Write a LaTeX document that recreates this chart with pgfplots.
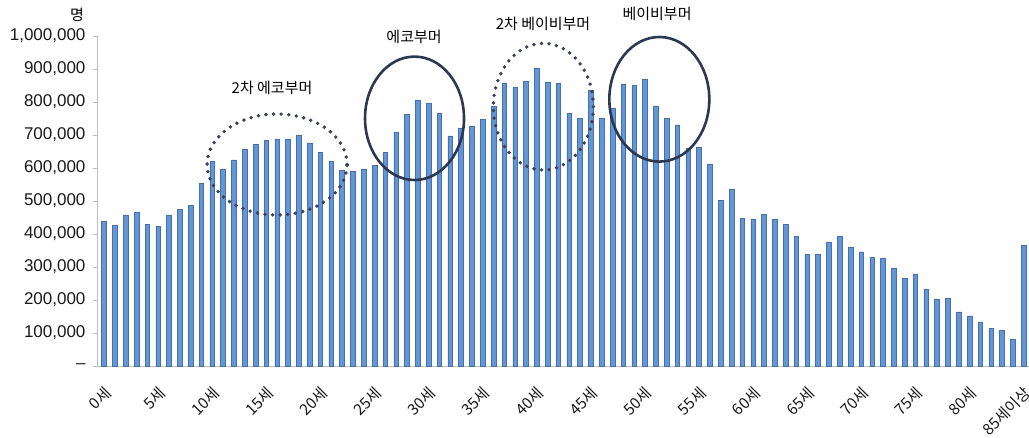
\documentclass[border=0pt]{standalone}
\usepackage{pgfplots}
\pgfplotsset{compat=1.18}
\usepackage{fontspec}
\setmainfont{Liberation Sans}
\newfontfamily\kr{Noto Sans CJK KR}
\definecolor{barfill}{RGB}{100,150,214}
\definecolor{baredge}{RGB}{70,112,172}
\definecolor{axgrey}{RGB}{190,190,190}
\definecolor{ringc}{RGB}{44,56,82}
\definecolor{dotc}{RGB}{58,64,86}
\begin{document}
\begin{tikzpicture}
\useasboundingbox (-97pt,-71pt) rectangle (932pt,366pt);
\begin{axis}[
  at={(0,0)}, anchor=south west,
  scale only axis, width=932pt, height=330pt,
  xmin=-0.65, xmax=85.5, ymin=0, ymax=1000000,
  axis lines*=left, axis line style={axgrey, line width=0.8pt, -},
  clip=false,
  scaled y ticks=false,
  ytick={0,100000,...,1000000},
  yticklabels={{--},{100,000},{200,000},{300,000},{400,000},{500,000},{600,000},{700,000},{800,000},{900,000},{1,000,000}},
  yticklabel style={font=\fontsize{17}{20}\selectfont, text=black!90, xshift=-4pt},
  xtick={0,5,...,85},
  xticklabels={0세,5세,10세,15세,20세,25세,30세,35세,40세,45세,50세,55세,60세,65세,70세,75세,80세,85세이상},
  xticklabel style={font=\kr\fontsize{15.5}{18}\selectfont, text=black!90, inner sep=0pt, xshift=-1pt, yshift=-15pt, rotate=45, anchor=north east},
  tick align=outside,
  major tick length=4pt,
  tick style={axgrey, line width=0.6pt},
  x tick style={draw=none},
  extra x ticks={-0.5,0.5,...,85.5},
  extra x tick labels={},
  extra x tick style={tick style={axgrey, line width=0.6pt}, major tick length=4pt},
]
\addplot[ybar, bar width=4.6pt, fill=barfill, draw=baredge, line width=0.5pt] coordinates {
(0,438000) (1,426000) (2,458000) (3,466000) (4,430000) (5,423000) (6,458000) (7,474000) (8,486000) (9,554000)
(10,620000) (11,597000) (12,625000) (13,656000) (14,672000) (15,683000) (16,688000) (17,688000) (18,699000) (19,676000)
(20,648000) (21,620000) (22,594000) (23,590000) (24,597000) (25,608000) (26,648000) (27,708000) (28,763000) (29,806000)
(30,795000) (31,767000) (32,697000) (33,720000) (34,728000) (35,748000) (36,786000) (37,857000) (38,846000) (39,862000)
(40,901000) (41,859000) (42,856000) (43,766000) (44,750000) (45,836000) (46,751000) (47,781000) (48,855000) (49,850000)
(50,869000) (51,786000) (52,751000) (53,731000) (54,660000) (55,664000) (56,612000) (57,502000) (58,537000) (59,447000)
(60,446000) (61,460000) (62,446000) (63,429000) (64,393000) (65,338000) (66,338000) (67,375000) (68,393000) (69,359000)
(70,346000) (71,330000) (72,326000) (73,295000) (74,266000) (75,279000) (76,232000) (77,201000) (78,204000) (79,164000)
(80,152000) (81,132000) (82,113000) (83,107000) (84,80000) (85,365000)
};
\coordinate (e1) at (axis cs:16.0,610600);
\coordinate (e2) at (axis cs:28.70,750600);
\coordinate (e3) at (axis cs:40.61,785800);
\coordinate (e4) at (axis cs:51.33,808200);
\node[font=\kr\fontsize{15}{18}\selectfont] at (axis cs:15.53,842000) {2차 에코부머};
\node[font=\kr\fontsize{15}{18}\selectfont] at (axis cs:28.66,997000) {에코부머};
\node[font=\kr\fontsize{15}{18}\selectfont] at (axis cs:40.58,1036000) {2차 베이비부머};
\node[font=\kr\fontsize{15}{18}\selectfont] at (axis cs:51.12,1067000) {베이비부머};
\node[font=\kr\fontsize{15}{18}\selectfont] at (axis cs:-0.65,1063000) [xshift=-20pt] {명};
\end{axis}
\draw[dotc, line width=3.8pt, line cap=round, dash pattern=on 0pt off 7.6pt] (e1) ellipse [x radius=70pt, y radius=50.5pt];
\draw[ringc, line width=2.6pt] (e2) ellipse [x radius=49.5pt, y radius=61.7pt];
\draw[dotc, line width=3.8pt, line cap=round, dash pattern=on 0pt off 7.6pt] (e3) ellipse [x radius=50pt, y radius=63.3pt];
\draw[ringc, line width=2.6pt] (e4) ellipse [x radius=50pt, y radius=62.3pt];
\end{tikzpicture}
\end{document}
